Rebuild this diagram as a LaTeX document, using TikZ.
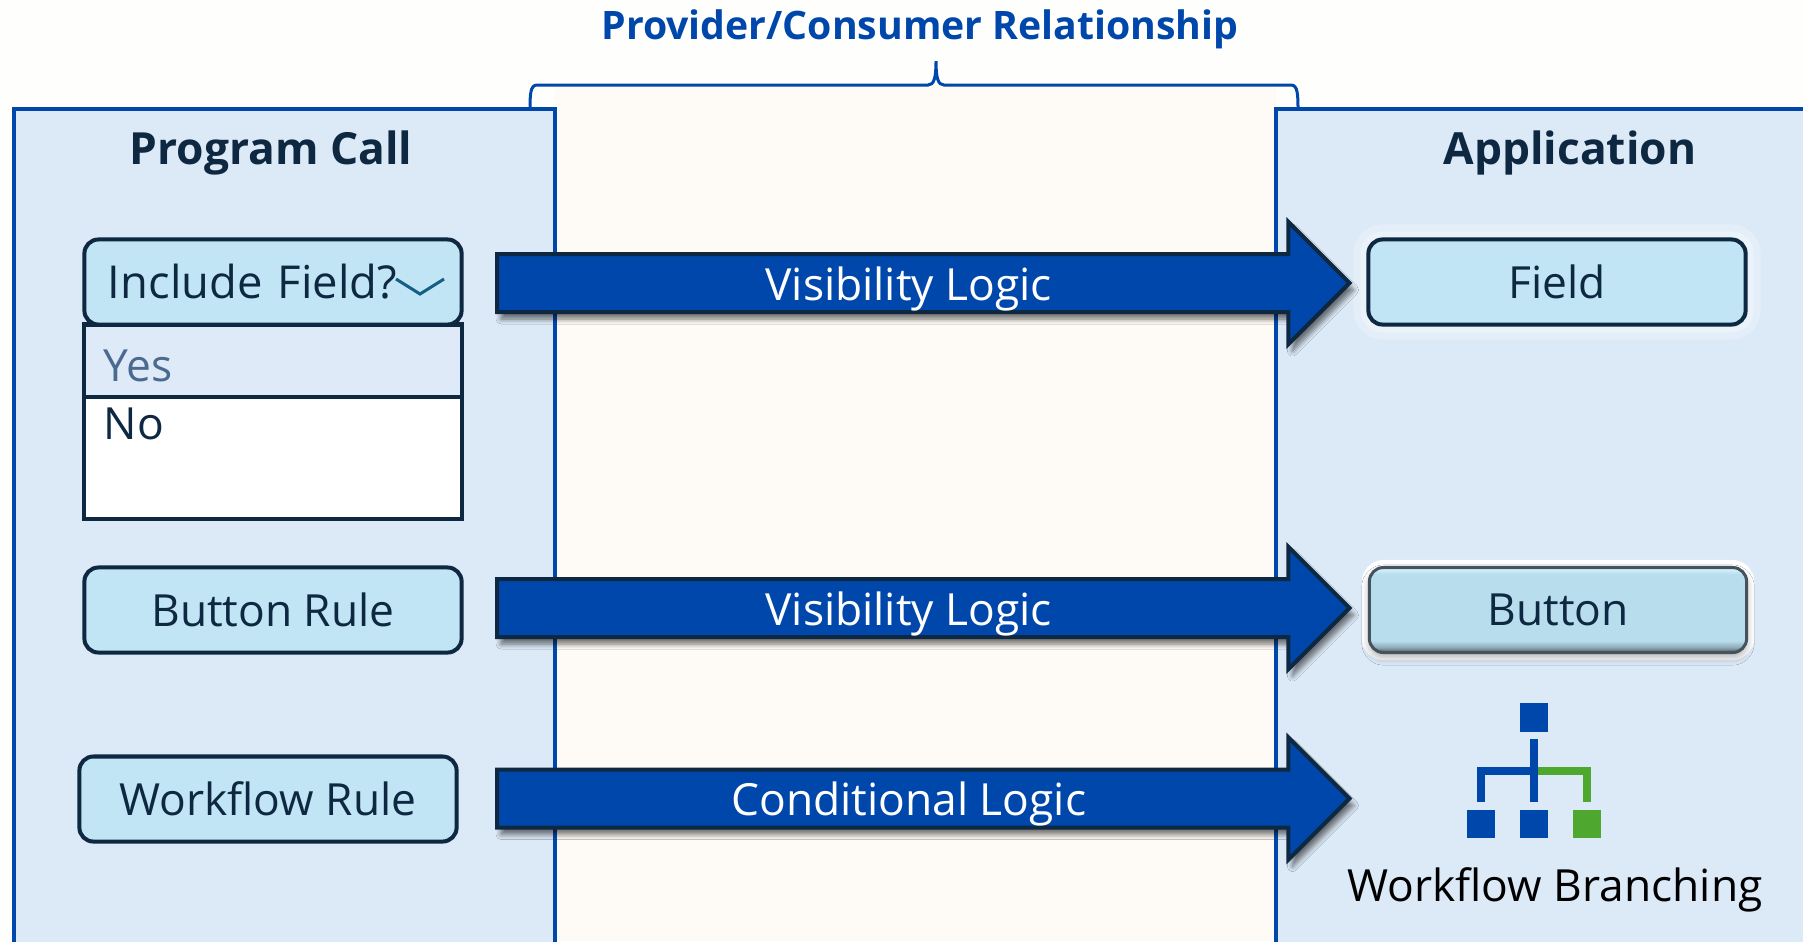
\documentclass[tikz,border=0pt]{standalone}
\usepackage{fontspec}
\setmainfont{Open Sans}
\usetikzlibrary{shapes.arrows,shadows,shadows.blur}
\definecolor{deepnavy}{HTML}{0E2841}
\definecolor{cobalt}{HTML}{0047AB}
\definecolor{panelblue}{HTML}{DCE9F7}
\definecolor{boxblue}{HTML}{C1E5F5}
\definecolor{leafgreen}{HTML}{4EA72E}
\definecolor{creamy}{HTML}{FEFBF6}
\definecolor{paper}{HTML}{FEFEFD}
\definecolor{chevronteal}{HTML}{156082}
\definecolor{yesgrey}{HTML}{4A6A90}
\definecolor{glassfill}{HTML}{B8DDED}
\definecolor{glassedge}{HTML}{46525E}
\definecolor{glasslow}{HTML}{8FA9B6}
\definecolor{glasshigh}{HTML}{D2F2FC}
\pgfdeclareverticalshading{glassbtn}{100bp}{color(0bp)=(glassedge); color(25bp)=(glassedge); color(28bp)=(glasslow); color(32bp)=(glassfill); color(71bp)=(glassfill); color(74bp)=(glasshigh); color(75bp)=(glassedge); color(100bp)=(glassedge)}
\tikzset{
	panel/.style={draw=cobalt, line width=0.035cm},
	headtext/.style={text=deepnavy, font=\fontsize{12.6}{15}\selectfont\bfseries},
	rulebox/.style={draw=deepnavy, fill=boxblue, line width=0.04cm, rounded corners=0.14cm, minimum width=3.77cm, minimum height=0.85cm, inner sep=0pt, text=deepnavy, font=\fontsize{12.6}{14}\selectfont},
	flowarrow/.style={single arrow, draw=deepnavy, fill=cobalt, line width=0.04cm, text=white, font=\fontsize{12.6}{14}\selectfont, text height=0.443cm, text depth=0.097cm, inner xsep=0pt, inner ysep=0pt, single arrow head extend=0.32cm, single arrow tip angle=90, minimum height=8.52cm, anchor=tail, blur shadow={shadow xshift=0.04cm, shadow yshift=-0.07cm, shadow blur radius=0.05cm, shadow blur steps=6, shadow opacity=55}},
	optbox/.style={draw=deepnavy, line width=0.04cm, minimum width=3.77cm, inner sep=0pt},
	branchsq/.style={fill=cobalt, minimum width=0.28cm, minimum height=0.285cm, inner sep=0pt},
	branchline/.style={draw=cobalt, line width=0.08cm, shorten >=0.07cm}
}
\begin{document}
\begin{tikzpicture}[x=0.01cm, y=-0.01cm, line join=miter]
	\useasboundingbox (0,0) rectangle (1803,941);
	\clip (0,0) rectangle (1803,941);
	\fill[paper] (0,0) rectangle (1803,941);
	\fill[creamy] (555,85) rectangle (1276,941);
	% brace on top
	\draw[cobalt, line width=0.03cm] (530,112) .. controls (530,95) and (530,85) .. (537,85) -- (928,85)
		.. controls (934,85) and (936,78) .. (936,61) .. controls (936,78) and (938,85) .. (944,85) -- (1291,85)
		.. controls (1298,85) and (1298,95) .. (1298,112);
	\node[text=cobalt, font=\fontsize{11.15}{13}\selectfont\bfseries] (relTitle) at (920,29) {Provider/Consumer Relationship};
	% two sides
	\fill[panelblue] (14,109) rectangle (555,960);
	\fill[panelblue] (1276,109) rectangle (1830,960);
	\draw[panel] (14,960) -- (14,109) -- (555,109) -- (555,960);
	\draw[panel] (1830,109) -- (1276,109) -- (1276,960);
	\node[headtext] (callTitle) at (271,153) {Program Call};
	\node[headtext] (appTitle) at (1570,153) {Application};
	% left column
	\node[optbox, fill=white, minimum height=1.94cm] (optBody) at (273,421.5) {};
	\node[optbox, fill=panelblue!95!white, minimum height=0.72cm] (optYes) at (273,361) {};
	\node[rulebox, text width=3.3cm, align=left, font=\fontsize{12.9}{14}\selectfont] (includeBox) at (273,282) {Include Field?};
	\draw[draw=chevronteal, line width=0.03cm] (396,279) -- (420,294) -- (444,279);
	\node[anchor=base west, inner sep=0pt, text=yesgrey, font=\fontsize{12.6}{14}\selectfont] (yesText) at (103,381) {Yes};
	\node[anchor=base west, inner sep=0pt, text=deepnavy, font=\fontsize{12.6}{14}\selectfont] (noText) at (103,439) {No};
	\node[rulebox] (buttonRule) at (273,610) {Button Rule};
	\node[rulebox] (workflowRule) at (268,799) {Workflow Rule};
	% right column
	\node[rulebox, preaction={draw=white, opacity=0.25, line width=0.3cm}, preaction={draw=white, opacity=0.25, line width=0.16cm}] (fieldBox) at (1557,282) {Field};
	\node[rulebox, draw=glassedge, line width=0.03cm, shading=glassbtn, preaction={draw=white, line width=0.15cm}, blur shadow={shadow xshift=0cm, shadow yshift=-0.05cm, shadow blur steps=5, shadow opacity=30}] (buttonBox) at (1558,610) {Button};
	\node[branchsq] (wfTop) at (1534,717.5) {};
	\node[branchsq] (wfLeft) at (1481,824) {};
	\node[branchsq] (wfMid) at (1534,824) {};
	\node[branchsq, fill=leafgreen] (wfRight) at (1587,824) {};
	\coordinate (wfJoint) at (1534,771);
	\draw[branchline, draw=leafgreen] (wfJoint) -| (wfRight.north);
	\draw[branchline] (wfJoint) -| (wfLeft.north);
	\draw[branchline, shorten <=0.07cm] (wfTop) -- (wfMid);
	\node[anchor=base, text=black, font=\fontsize{12.6}{14}\selectfont] (wfText) at (1555,901) {Workflow Branching};
	% block arrows
	\node[flowarrow] (visArrowA) at (495,283) {Visibility Logic};
	\node[flowarrow] (visArrowB) at (495,608) {Visibility Logic};
	\node[flowarrow] (condArrow) at (495,798.5) {Conditional Logic};
\end{tikzpicture}
\end{document}
